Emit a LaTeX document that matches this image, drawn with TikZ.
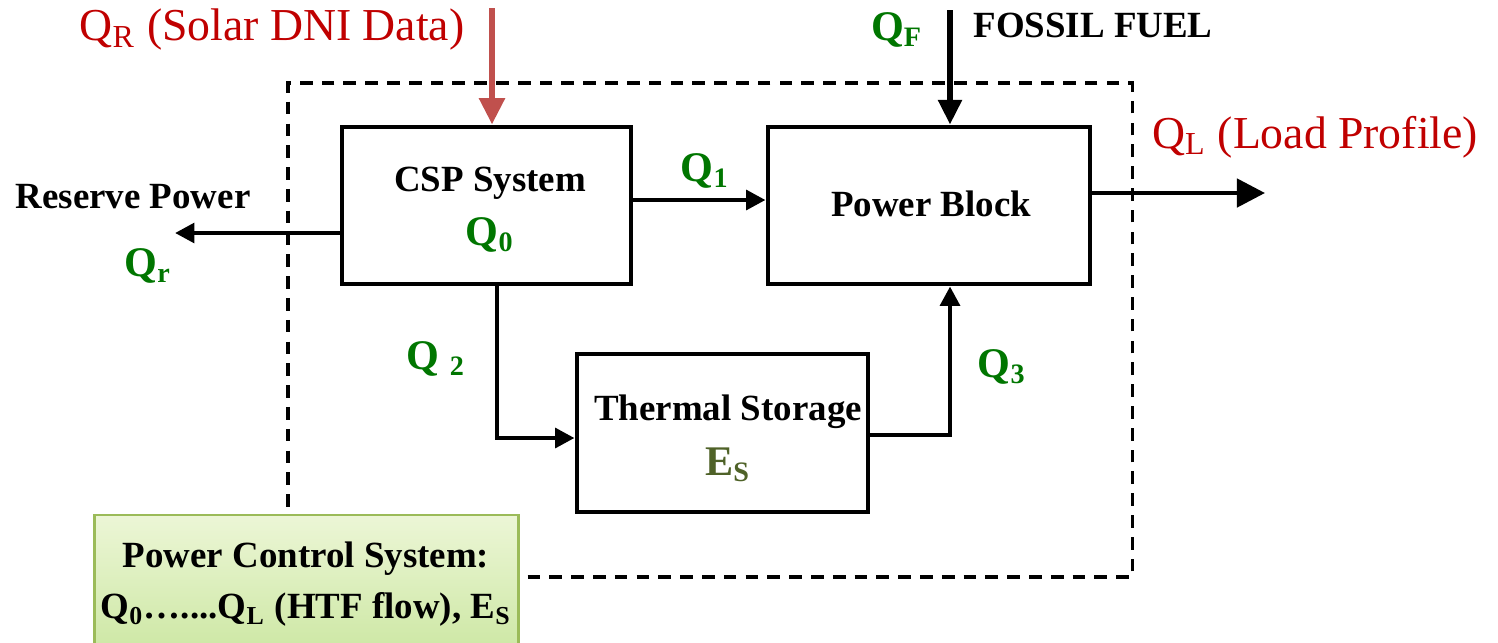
\documentclass[tikz,border=0pt]{standalone}
\usepackage{fontspec}
\setmainfont{Liberation Serif}
\usetikzlibrary{arrows.meta}
\definecolor{qgreen}{RGB}{0,118,0}
\definecolor{esgreen}{RGB}{79,98,40}
\definecolor{qred}{RGB}{192,0,0}
\definecolor{arrred}{RGB}{192,80,77}
\definecolor{pcsborder}{RGB}{155,187,89}
\definecolor{pcstop}{RGB}{236,246,214}
\definecolor{pcsbot}{RGB}{206,232,166}
\begin{document}
\begin{tikzpicture}[x=0.01cm,y=-0.01cm,
  blk/.style={draw,line width=1.35pt,inner sep=0pt},
  lbl/.style={font=\fontsize{10.5}{12}\selectfont\bfseries,inner sep=0pt},
  qlbl/.style={font=\fontsize{12}{14}\selectfont\bfseries,text=qgreen,inner sep=0pt},
  redlbl/.style={font=\fontsize{13}{16}\selectfont,text=qred,inner sep=0pt},
  flow/.style={line width=1.3pt,-{Triangle[length=5.5pt,width=5.5pt]}},
  ]
\useasboundingbox (0,0) rectangle (1498,642);
% dashed system boundary
\node[draw,dash pattern=on 3.6pt off 2.6pt,line width=1pt,minimum width=8.44cm,minimum height=4.94cm,inner sep=0pt] (sys) at (710,330) {};
% blocks
\node[blk,minimum width=2.89cm,minimum height=1.57cm] (csp) at (486.5,205.5) {};
\node[blk,minimum width=3.22cm,minimum height=1.57cm] (pb) at (929,205.5) {};
\node[blk,minimum width=2.91cm,minimum height=1.58cm] (ts) at (722.5,433) {};
% texts in blocks
\node[lbl] (csptxt) at (490,183) {CSP System};
\node[qlbl] (q0) at (490,235) {Q\textsubscript{0}};
\node[lbl] (pbtxt) at (931,204) {Power Block};
\node[lbl] (tstxt) at (728,412) {Thermal Storage};
\node[qlbl,text=esgreen] (es) at (728,465) {E\textsubscript{S}};
% coordinates
\coordinate (qrtop) at (492,8);
\coordinate (fftop) at (950,10);
\coordinate (res) at (175,233);
\coordinate (out) at (1265,193);
\coordinate (q1y) at (0,200);
\coordinate (q2x) at (497,0);
\coordinate (q2y) at (0,438);
\coordinate (q3x) at (950,0);
\coordinate (q3y) at (0,435);
% arrows
\draw[line width=1.8pt,draw=arrred,-{Triangle[length=7.5pt,width=7pt]},arrred] (qrtop) -- (csp.north -| qrtop);
\draw[line width=1.6pt,-{Triangle[length=7pt,width=6.5pt]}] (fftop) -- (pb.north -| fftop);
\draw[flow] (csp.east |- q1y) -- (pb.west |- q1y);
\draw[flow] (csp.west |- res) -- (res);
\draw[line width=1.3pt,-{Triangle[length=8pt,width=8pt]}] (pb.east |- out) -- (out);
\draw[flow] (csp.south -| q2x) |- (ts.west |- q2y);
\draw[flow] (ts.east |- q3y) -| (pb.south -| q3x);
% labels
\node[redlbl] (qrl) at (272,30) {Q\textsubscript{R} (Solar DNI Data)};
\node[qlbl] (qf) at (897,30) {Q\textsubscript{F}};
\node[lbl] (ff) at (1093,25) {FOSSIL FUEL};
\node[redlbl] (qll) at (1315,137) {Q\textsubscript{L} (Load Profile)};
\node[lbl] (rp) at (133,197) {Reserve Power};
\node[qlbl] (qr) at (148,266) {Q\textsubscript{r}};
\node[qlbl] (q1) at (705,171) {Q\textsubscript{1}};
\node[qlbl] (q2) at (436,359) {Q \textsubscript{2}};
\node[qlbl] (q3) at (1002,367) {Q\textsubscript{3}};
% power control system
\node[draw=pcsborder,line width=0.8pt,top color=pcstop,bottom color=pcsbot,minimum width=4.23cm,minimum height=1.32cm,inner sep=0pt] (pcs) at (306.5,581) {};
\node[lbl,align=center,font=\fontsize{10.5}{14.5}\selectfont\bfseries] (pcstxt) at (306,584) {Power Control System:\\Q\textsubscript{0}…....Q\textsubscript{L} (HTF flow), E\textsubscript{S}};
\end{tikzpicture}
\end{document}
